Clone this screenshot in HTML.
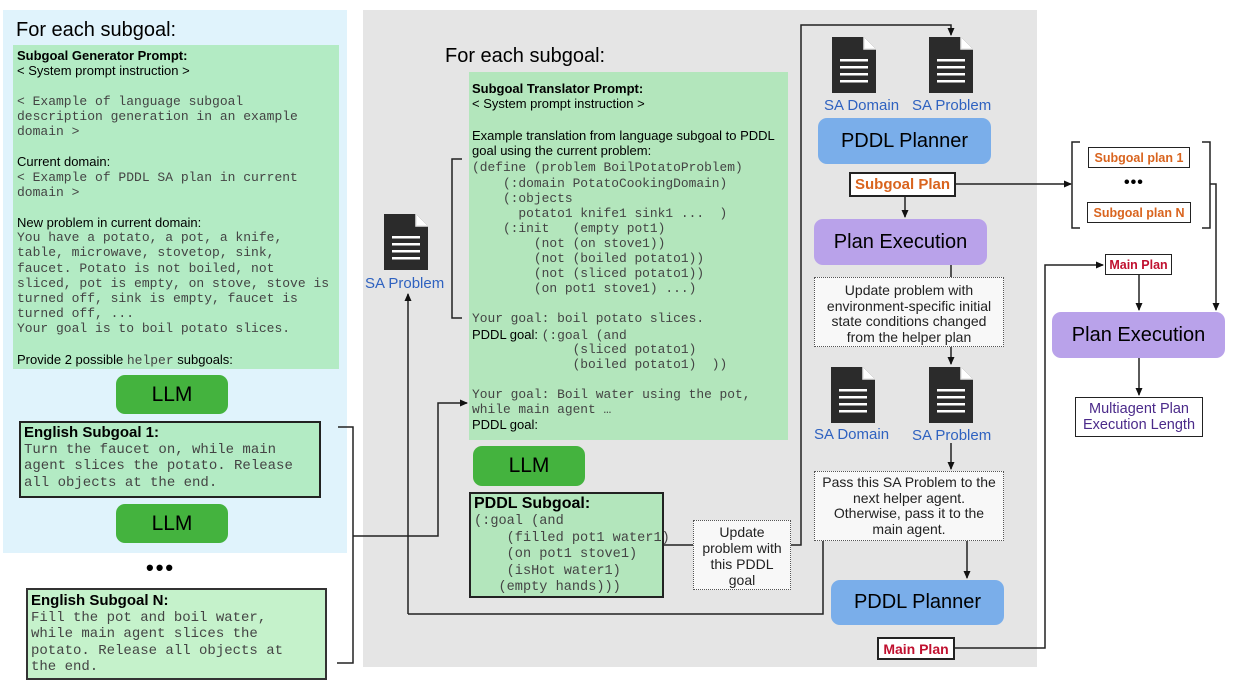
<!DOCTYPE html>
<html><head><meta charset="utf-8"><style>
body{margin:0;width:1240px;height:689px;position:relative;background:#fff;font-family:"Liberation Sans",sans-serif;overflow:hidden}
.a{position:absolute;box-sizing:border-box}
.m{font-family:"Liberation Mono",monospace;color:#444}
.l{white-space:pre;overflow:visible}
.btn{display:flex;align-items:center;justify-content:center;border-radius:9px}
.lbl{color:#2f62c0;font-size:15px;white-space:nowrap}
.dot{border:1.5px dotted #555;background:#f8f8f8;text-align:center;font-size:14px;line-height:16px;color:#222}
.pb{border:2px solid #222;background:#fff;font-weight:bold;font-size:14px;display:flex;align-items:center;justify-content:center}
.g1 .l{height:15.2px;line-height:15.2px;font-size:13px}
.g2 .l{height:15.1px;line-height:15.1px;font-size:13px}
.g2 .m{font-size:12.9px}
.g3 .l{height:16.6px;line-height:16.6px;font-size:14.4px}
.g4 .l{height:16.6px;line-height:16.6px;font-size:14px}
</style></head><body>
<div class="a" style="left:3px;top:10px;width:344px;height:543px;background:#e0f3fc"></div>
<div class="a" style="left:363px;top:10px;width:674px;height:657px;background:#e5e5e5"></div>
<div class="a" style="left:16px;top:19px;font-size:20px">For each subgoal:</div>
<div class="a" style="left:445px;top:45px;font-size:20px">For each subgoal:</div>

<div class="a g1" style="left:13px;top:45px;width:326px;height:324px;background:#b3ebc4;padding:3px 0 0 4px">
<div class="l"><b>Subgoal Generator Prompt:</b></div>
<div class="l">&lt; System prompt instruction &gt;</div>
<div class="l"> </div>
<div class="l m">&lt; Example of language subgoal</div>
<div class="l m">description generation in an example</div>
<div class="l m">domain &gt;</div>
<div class="l"> </div>
<div class="l">Current domain:</div>
<div class="l m">&lt; Example of PDDL SA plan in current</div>
<div class="l m">domain &gt;</div>
<div class="l"> </div>
<div class="l">New problem in current domain:</div>
<div class="l m">You have a potato, a pot, a knife,</div>
<div class="l m">table, microwave, stovetop, sink,</div>
<div class="l m">faucet. Potato is not boiled, not</div>
<div class="l m">sliced, pot is empty, on stove, stove is</div>
<div class="l m">turned off, sink is empty, faucet is</div>
<div class="l m">turned off, ...</div>
<div class="l m">Your goal is to boil potato slices.</div>
<div class="l"> </div>
<div class="l">Provide 2 possible <span class="m">helper</span> subgoals:</div>
</div>

<div class="a btn" style="left:116px;top:375px;width:112px;height:39px;background:#44b33e;font-size:21px">LLM</div>
<div class="a g3" style="left:19px;top:421px;width:302px;height:77px;background:#b3ebc4;border:2px solid #222;padding:2px 0 0 3px">
<div class="l" style="font-size:15px"><b>English Subgoal 1:</b></div>
<div class="l m" style="font-size:14px">Turn the faucet on, while main</div>
<div class="l m" style="font-size:14px">agent slices the potato. Release</div>
<div class="l m" style="font-size:14px">all objects at the end.</div></div>
<div class="a btn" style="left:116px;top:504px;width:112px;height:39px;background:#44b33e;font-size:21px">LLM</div>
<div class="a" style="left:146px;top:555px;font-size:22px;letter-spacing:2px;font-weight:bold">•••</div>
<div class="a g3" style="left:26px;top:588px;width:301px;height:92px;background:#c5f2cb;border:2px solid #333;padding:3px 0 0 3px">
<div class="l" style="font-size:15px"><b>English Subgoal N:</b></div>
<div class="l m" style="font-size:14px">Fill the pot and boil water,</div>
<div class="l m" style="font-size:14px">while main agent slices the</div>
<div class="l m" style="font-size:14px">potato. Release all objects at</div>
<div class="l m" style="font-size:14px">the end.</div></div>

<div class="a g2" style="left:469px;top:72px;width:319px;height:368px;background:#b3e6bc;padding:9px 0 0 3px">
<div class="l"><b>Subgoal Translator Prompt:</b></div>
<div class="l">&lt; System prompt instruction &gt;</div>
<div class="l"> </div>
<div class="l" style="margin-top:2px">Example translation from language subgoal to PDDL</div>
<div class="l">goal using the current problem:</div>
<div class="l m" style="margin-top:2px">(define (problem BoilPotatoProblem)</div>
<div class="l m">    (:domain PotatoCookingDomain)</div>
<div class="l m">    (:objects</div>
<div class="l m">      potato1 knife1 sink1 ...  )</div>
<div class="l m">    (:init   (empty pot1)</div>
<div class="l m">        (not (on stove1))</div>
<div class="l m">        (not (boiled potato1))</div>
<div class="l m">        (not (sliced potato1))</div>
<div class="l m">        (on pot1 stove1) ...)</div>
<div class="l"> </div>
<div class="l m">Your goal: boil potato slices.</div>
<div class="l">PDDL goal: <span class="m">(:goal (and</span></div>
<div class="l m">             (sliced potato1)</div>
<div class="l m">             (boiled potato1)  ))</div>
<div class="l"> </div>
<div class="l m">Your goal: Boil water using the pot,</div>
<div class="l m">while main agent …</div>
<div class="l">PDDL goal:</div>
</div>

<div class="a btn" style="left:473px;top:446px;width:112px;height:40px;background:#44b33e;font-size:21px">LLM</div>
<div class="a g4" style="left:469px;top:492px;width:195px;height:106px;background:#b3e6bc;border:2px solid #222;padding:2px 0 0 3px">
<div class="l" style="font-size:16px;height:18px"><b>PDDL Subgoal:</b></div>
<div class="l m" style="font-size:13.6px">(:goal (and</div>
<div class="l m" style="font-size:13.6px">    (filled pot1 water1)</div>
<div class="l m" style="font-size:13.6px">    (on pot1 stove1)</div>
<div class="l m" style="font-size:13.6px">    (isHot water1)</div>
<div class="l m" style="font-size:13.6px">   (empty hands)))</div></div>
<div class="a dot" style="left:693px;top:520px;width:98px;height:70px;padding-top:3px">Update<br>problem with<br>this PDDL<br>goal</div>

<svg class="a" style="left:0;top:0" width="1240" height="689">
<defs><marker id="ar" markerWidth="8" markerHeight="8" refX="7" refY="4" orient="auto" markerUnits="userSpaceOnUse"><path d="M0,0.5 L8,4 L0,7.5z" fill="#111"/></marker>
<g id="doc"><path d="M0,0 H32 L44,12 V56 H0z" fill="#2b2b2b"/><path d="M32,0 V12 H44" fill="#fff" stroke="#e5e5e5" stroke-width="1.5"/><rect x="8" y="22" width="28" height="2.5" fill="#fff"/><rect x="8" y="29" width="28" height="2.5" fill="#fff"/><rect x="8" y="36" width="28" height="2.5" fill="#fff"/><rect x="8" y="43" width="28" height="2.5" fill="#fff"/></g></defs>
<use href="#doc" x="384" y="214"/>
<use href="#doc" x="832" y="37"/><use href="#doc" x="929" y="37"/>
<use href="#doc" x="831" y="367"/><use href="#doc" x="929" y="367"/>
<g fill="none" stroke="#222" stroke-width="1.5">
<path d="M338,427 H353 V663 H337"/>
<path d="M353,536 H438 V403 H467" marker-end="url(#ar)"/>
<path d="M462,159 H452 V318 H462"/>
<path d="M408,614 V294" marker-end="url(#ar)"/>
<path d="M823,541 V614 H408"/>
<path d="M664,545 H693"/>
<path d="M791,545 H801 V25 H951 V35" marker-end="url(#ar)"/>
<path d="M905,197 V217" marker-end="url(#ar)"/>
<path d="M951,265 V364" marker-end="url(#ar)"/>
<path d="M951,443 V469" marker-end="url(#ar)"/>
<path d="M967,541 V578" marker-end="url(#ar)"/>
<path d="M956,184 H1071" marker-end="url(#ar)"/>
<path d="M1080,142 H1072 V228 H1080"/>
<path d="M1202,142 H1210 V228 H1202"/>
<path d="M1210,184 H1216 V310" marker-end="url(#ar)"/>
<path d="M955,648 H1045 V265 H1103" marker-end="url(#ar)"/>
<path d="M1139,275 V310" marker-end="url(#ar)"/>
<path d="M1139,358 V395" marker-end="url(#ar)"/>
</g></svg>

<div class="a lbl" style="left:365px;top:275px">SA Problem</div>
<div class="a lbl" style="left:824px;top:97px">SA Domain</div>
<div class="a lbl" style="left:912px;top:97px">SA Problem</div>
<div class="a lbl" style="left:814px;top:426px">SA Domain</div>
<div class="a lbl" style="left:912px;top:427px">SA Problem</div>

<div class="a btn" style="left:818px;top:118px;width:173px;height:46px;background:#7aaeea;font-size:20px">PDDL Planner</div>
<div class="a pb" style="left:849px;top:172px;width:107px;height:25px;color:#d9641e;font-size:15px">Subgoal Plan</div>
<div class="a btn" style="left:814px;top:219px;width:173px;height:46px;background:#b9a2ea;font-size:20px">Plan Execution</div>
<div class="a dot" style="left:814px;top:277px;width:190px;height:70px;padding-top:5px;line-height:15.5px">Update problem with<br>environment-specific initial<br>state conditions changed<br>from the helper plan</div>
<div class="a dot" style="left:814px;top:471px;width:190px;height:70px;padding-top:3px;line-height:15.5px">Pass this SA Problem to the<br>next helper agent.<br>Otherwise, pass it to the<br>main agent.</div>
<div class="a btn" style="left:831px;top:580px;width:173px;height:45px;background:#7aaeea;font-size:20px">PDDL Planner</div>
<div class="a pb" style="left:877px;top:637px;width:78px;height:23px;color:#c0102f">Main Plan</div>

<div class="a pb" style="left:1088px;top:147px;width:102px;height:21px;color:#d9641e;font-size:12.5px;border-width:1.5px">Subgoal plan 1</div>
<div class="a" style="left:1124px;top:174px;font-size:16px;letter-spacing:1px;font-weight:bold">•••</div>
<div class="a pb" style="left:1087px;top:202px;width:104px;height:21px;color:#d9641e;font-size:12.5px;border-width:1.5px">Subgoal plan N</div>
<div class="a pb" style="left:1105px;top:254px;width:67px;height:21px;color:#c0102f;font-size:12.5px;border-width:1.5px">Main Plan</div>
<div class="a btn" style="left:1052px;top:312px;width:173px;height:46px;background:#b9a2ea;font-size:20px">Plan Execution</div>
<div class="a" style="left:1075px;top:397px;width:128px;height:40px;border:1.5px solid #222;background:#fff;color:#4b2a8a;font-size:14.5px;text-align:center;line-height:16px;padding-top:3px">Multiagent Plan<br>Execution Length</div>
</body></html>
